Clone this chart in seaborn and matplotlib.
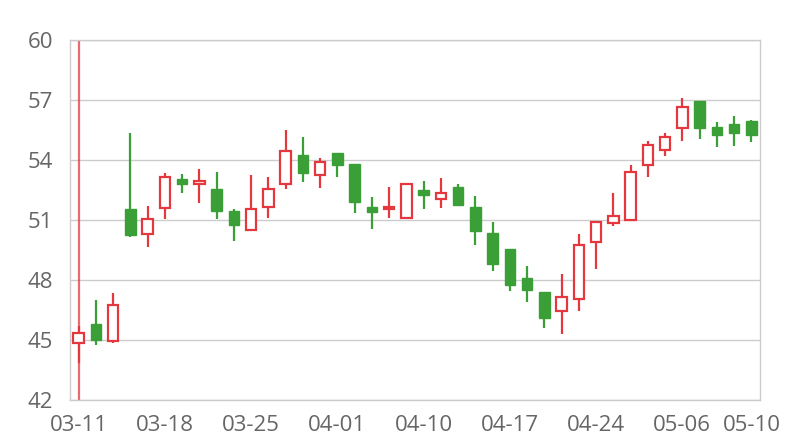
import matplotlib
matplotlib.use("Agg")
import matplotlib.pyplot as plt
import seaborn as sns
import pandas as pd

# trading days shown on the chart
dates = ["03-11", "03-12", "03-13", "03-14", "03-15",
         "03-18", "03-19", "03-20", "03-21", "03-22",
         "03-25", "03-26", "03-27", "03-28", "03-29",
         "04-01", "04-02", "04-03", "04-08", "04-09",
         "04-10", "04-11", "04-12", "04-15", "04-16",
         "04-17", "04-18", "04-19", "04-22", "04-23",
         "04-24", "04-25", "04-26", "04-29", "04-30",
         "05-06", "05-07", "05-08", "05-09", "05-10"]

open_ = [44.87, 45.80, 44.97, 51.53, 50.30, 51.58, 53.07, 52.80, 52.53, 51.47,
         50.48, 51.67, 52.80, 54.25, 53.27, 54.33, 53.82, 51.67, 51.53, 51.08,
         52.52, 52.07, 52.63, 51.65, 50.33, 49.53, 48.12, 47.42, 46.45, 47.07,
         49.90, 50.83, 51.00, 53.77, 54.50, 55.60, 56.95, 55.67, 55.80, 55.93]
close = [45.37, 45.00, 46.73, 50.25, 51.03, 53.17, 52.82, 52.97, 51.45, 50.77,
         51.53, 52.57, 54.45, 53.33, 53.92, 53.75, 51.92, 51.38, 51.65, 52.80,
         52.27, 52.37, 51.77, 50.47, 48.78, 47.73, 47.52, 46.08, 47.13, 49.77,
         50.92, 51.18, 53.42, 54.73, 55.13, 56.65, 55.58, 55.27, 55.37, 55.27]
high = [45.70, 47.00, 47.33, 55.37, 51.70, 53.33, 53.30, 53.53, 53.38, 51.57,
        53.25, 53.17, 55.50, 55.17, 54.08, 54.33, 53.82, 52.13, 52.67, 52.80,
        52.95, 53.10, 52.80, 52.20, 50.88, 49.53, 48.70, 47.42, 48.30, 50.30,
        50.92, 52.33, 53.75, 54.95, 55.33, 57.08, 56.95, 55.90, 56.18, 56.00]
low = [43.87, 44.77, 44.83, 50.17, 49.63, 51.07, 52.37, 51.83, 51.07, 49.97,
       50.43, 51.12, 52.57, 52.92, 52.58, 53.17, 51.37, 50.53, 51.08, 51.08,
       51.53, 51.58, 51.70, 49.75, 48.47, 47.47, 46.92, 45.62, 45.30, 46.47,
       48.57, 50.68, 51.00, 53.17, 54.20, 54.97, 55.03, 54.67, 54.72, 54.92]

tick_idx = [0, 5, 10, 15, 20, 25, 30, 35, 39]
y_ticks = [42, 45, 48, 51, 54, 57, 60]

RED = "#e5383e"
GREEN = "#3a9f37"

df = pd.DataFrame({"date": dates, "open": open_, "close": close,
                   "high": high, "low": low})
df["pos"] = range(len(df))
df["up"] = df["close"] >= df["open"]
df["bottom"] = df[["open", "close"]].min(axis=1)
df["height"] = (df["close"] - df["open"]).abs()

sns.set_theme(style="white")
plt.rcParams["font.family"] = ["Open Sans", "DejaVu Sans"]

fig = plt.figure(figsize=(8, 4.4), dpi=100)
ax = fig.add_axes([0.0875, 0.0909, 0.8625, 0.8182])

colors = [RED if u else GREEN for u in df["up"]]

# highlight line on the first day
ax.axvline(df["pos"].iloc[0], color=RED, lw=1.6, alpha=0.75, zorder=2)

# wicks
ax.vlines(df["pos"], df["low"], df["high"], colors=colors, lw=1.6, zorder=3)

# bodies: red hollow (up), green filled (down)
up = df[df["up"]]
down = df[~df["up"]]
ax.bar(up["pos"], up["height"], bottom=up["bottom"], width=0.62,
       facecolor="white", edgecolor=RED, linewidth=1.6, zorder=4)
ax.bar(down["pos"], down["height"], bottom=down["bottom"], width=0.62,
       facecolor=GREEN, edgecolor=GREEN, linewidth=1.0, zorder=4)

ax.set_xlim(-0.5, len(df) - 0.5)
ax.set_ylim(42, 60)
ax.set_yticks(y_ticks)
ax.set_yticklabels([str(v) for v in y_ticks])
ax.set_xticks([df["pos"].iloc[i] for i in tick_idx])
ax.set_xticklabels([df["date"].iloc[i] for i in tick_idx])

ax.grid(axis="y", color="#cccccc", lw=1.0, zorder=0)
ax.set_axisbelow(True)
for s in ax.spines.values():
    s.set_color("#cccccc")
    s.set_linewidth(1.0)

ax.tick_params(axis="both", length=0, labelsize=16, colors="#666666")
ax.tick_params(axis="y", pad=12)
ax.tick_params(axis="x", pad=11)

fig.savefig("out.png", dpi=100)
